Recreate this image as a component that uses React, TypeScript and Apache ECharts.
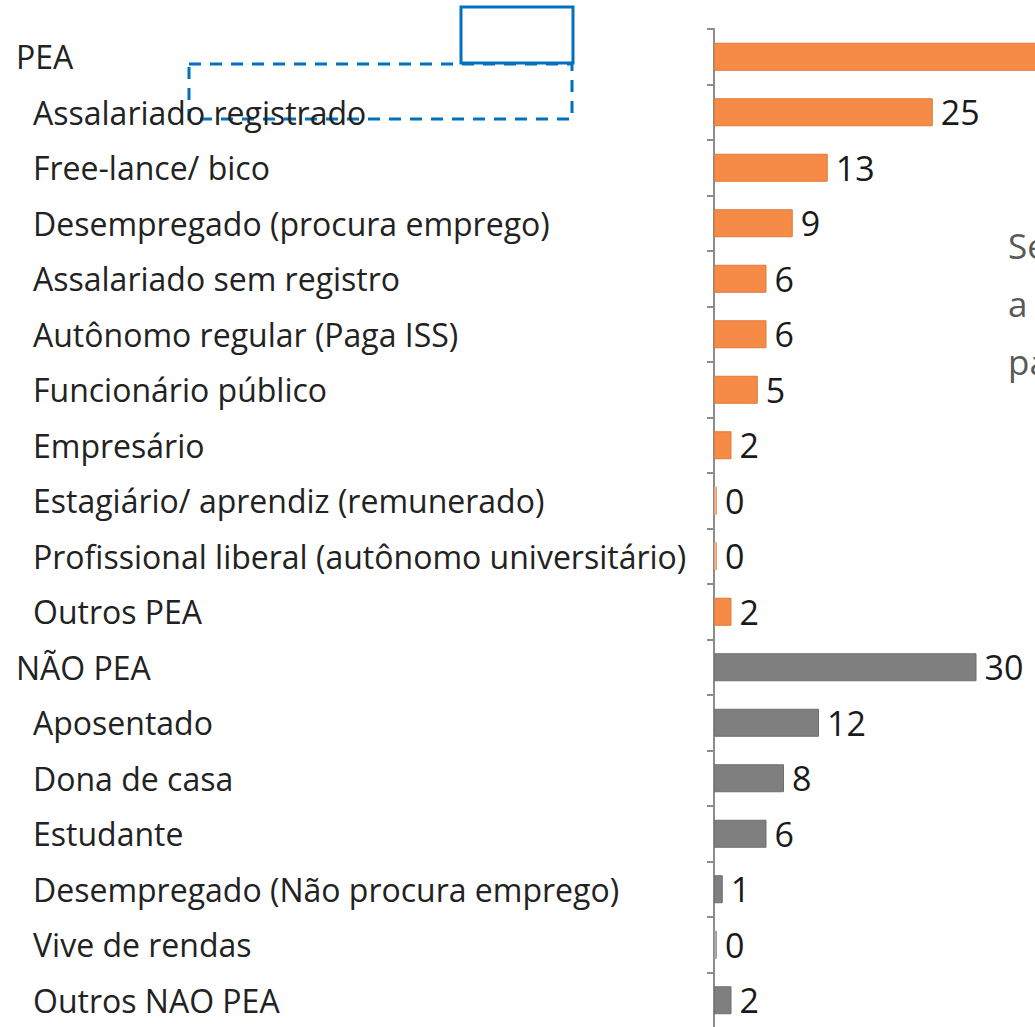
import React, { useEffect, useRef } from "react";
import * as echarts from "echarts";

const categories = [
  "PEA",
  "Assalariado registrado",
  "Free-lance/ bico",
  "Desempregado (procura emprego)",
  "Assalariado sem registro",
  "Autônomo regular (Paga ISS)",
  "Funcionário público",
  "Empresário",
  "Estagiário/ aprendiz (remunerado)",
  "Profissional liberal (autônomo universitário)",
  "Outros PEA",
  "NÃO PEA",
  "Aposentado",
  "Dona de casa",
  "Estudante",
  "Desempregado (Não procura emprego)",
  "Vive de rendas",
  "Outros NAO PEA",
];
const values = [70, 25, 13, 9, 6, 6, 5, 2, 0, 0, 2, 30, 12, 8, 6, 1, 0, 2];
const groups = ["PEA", "PEA", "PEA", "PEA", "PEA", "PEA", "PEA", "PEA", "PEA", "PEA", "PEA", "NAO", "NAO", "NAO", "NAO", "NAO", "NAO", "NAO"];
const headers = ["PEA", "NÃO PEA"];
const sideText = ["Se", "a", "pa"];

const ORANGE = "#F68B47";
const GRAY = "#7F7F7F";
const FONT = "Open Sans";

export default function App() {
  const ref = useRef<HTMLDivElement>(null);
  useEffect(() => {
    const chart = echarts.init(ref.current!, null, { renderer: "svg" });
    const gridLeft = 714;
    const unit = 8.75;
    const xMax = 80;
    chart.setOption({
      animation: false,
      backgroundColor: "#ffffff",
      grid: {
        left: gridLeft,
        width: xMax * unit,
        top: 29,
        height: 999,
        containLabel: false,
        outerBoundsMode: "none",
      },
      xAxis: { type: "value", min: 0, max: xMax, show: false },
      yAxis: {
        type: "category",
        inverse: true,
        data: categories,
        axisLine: { show: true, lineStyle: { color: "#8C8C8C", width: 2 } },
        axisTick: { show: true, length: 7, lineStyle: { color: "#8C8C8C", width: 2 } },
        axisLabel: {
          align: "left",
          margin: gridLeft - 16,
          formatter: (v: string) => (headers.includes(v) ? `{h|${v}}` : `{s|${v}}`),
          rich: {
            h: { fontFamily: FONT, fontSize: 32, color: "#222222" },
            s: { fontFamily: FONT, fontSize: 32, color: "#222222", padding: [0, 0, 0, 17] },
          },
        },
      },
      series: [
        {
          type: "bar",
          barWidth: 28,
          barMinHeight: 3,
          data: values.map((v, i) => {
            const pea = groups[i] === "PEA";
            return {
              value: v,
              itemStyle: {
                color: v === 0 ? (pea ? "#F4B48A" : "#B0B0B0") : pea ? ORANGE : GRAY,
                borderColor: v === 0 ? (pea ? "#E8A070" : "#999999") : pea ? "#E07A3A" : "#6F6F6F",
                borderWidth: 1,
              },
              label: i === 0 ? { show: false } : undefined,
            };
          }),
          label: {
            show: true,
            position: "right",
            distance: 8,
            fontFamily: FONT,
            fontSize: 34,
            color: "#1A1A1A",
          },
        },
      ],
      graphic: [
        ...sideText.map((t, i) => ({
          type: "text",
          x: 1008,
          y: 245 + i * 58,
          style: {
            text: t,
            fontFamily: FONT,
            fontSize: 35,
            fill: "#595959",
            verticalAlign: "middle",
          },
        })),
        {
          type: "rect",
          shape: { x: 461, y: 7, width: 112, height: 56 },
          style: { fill: "none", stroke: "#0070C0", lineWidth: 3 },
        },
        {
          type: "rect",
          shape: { x: 189, y: 64, width: 383, height: 55 },
          style: { fill: "none", stroke: "#0070C0", lineWidth: 3, lineDash: [12, 9] },
        },
      ],
    });
    return () => chart.dispose();
  }, []);
  return (
    <div
      ref={ref}
      style={{ position: "fixed", left: 0, top: 0, width: 1035, height: 1027 }}
    />
  );
}
